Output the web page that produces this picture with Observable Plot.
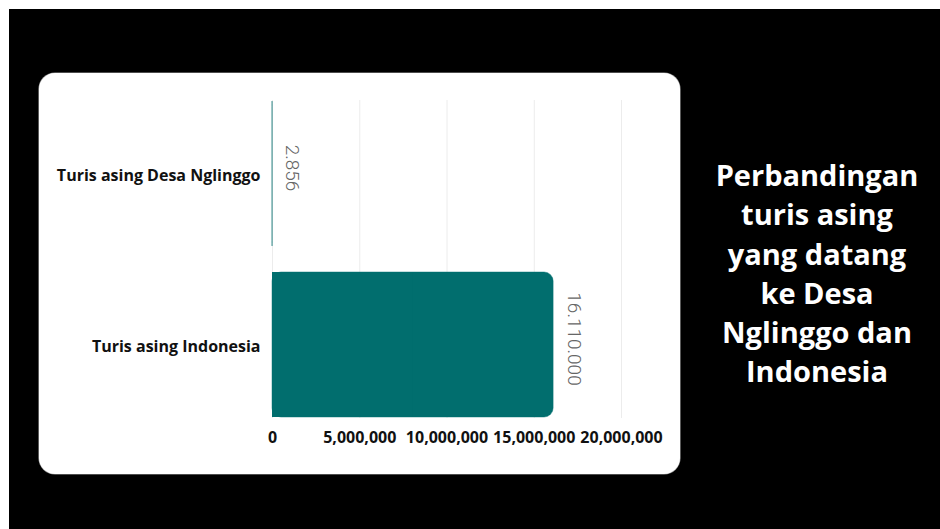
<!DOCTYPE html>
<html>
<head>
<meta charset="utf-8">
<script src="https://cdn.jsdelivr.net/npm/d3@7"></script>
<script src="https://cdn.jsdelivr.net/npm/@observablehq/plot@0.6"></script>
<style>
  html, body { margin: 0; padding: 0; background: #ffffff; width: 940px; height: 529px; overflow: hidden; }
  #bg { position: absolute; left: 9px; top: 9px; width: 931px; height: 520px; background: #000; }
  #card { position: absolute; left: 39px; top: 73px; width: 641px; height: 401px; background: #fff; border-radius: 16px; box-shadow: 0 0 0 0.6px #999; }
  #chart { position: absolute; left: 39px; top: 73px; }
  #title { position: absolute; left: 697px; top: 155px; width: 240px; text-align: center; color: #fff;
           font-family: "Open Sans", sans-serif; font-weight: 700; font-size: 29px; line-height: 39.3px; }
</style>
</head>
<body>
<div id="bg"></div>
<div id="card"></div>
<div id="chart"></div>
<div id="title">Perbandingan<br>turis asing<br>yang datang<br>ke Desa<br>Nglinggo dan<br>Indonesia</div>
<script>
const categories = ["Turis asing Desa Nglinggo", "Turis asing Indonesia"];
const values = [2856, 16110000];
const xTicks = [0, 5000000, 10000000, 15000000, 20000000];
const barColor = "#016e6e";

const data = categories.map((c, i) => ({cat: c, value: values[i]}));
const idLocale = d3.formatLocale({decimal: ",", thousands: ".", grouping: [3], currency: ["", ""]});
const labelFmt = idLocale.format(",");
const tickFmt = d3.format(",");

const chart = Plot.plot({
  width: 641,
  height: 401,
  marginLeft: 233,
  marginRight: 59,
  marginTop: 27,
  marginBottom: 56,
  style: {background: "transparent", fontFamily: "'Open Sans', sans-serif", overflow: "visible"},
  x: {domain: [0, 20000000], ticks: xTicks, tickFormat: tickFmt, label: null},
  y: {domain: categories, paddingInner: 0.15, paddingOuter: 0, label: null},
  marks: [
    Plot.gridX(xTicks, {stroke: "#ececec", strokeOpacity: 1}),
    Plot.barX(data, {x: "value", y: "cat", fill: barColor, stroke: barColor, strokeWidth: 1, strokeOpacity: 0.45, rx: 9}),
    Plot.barX(data, {x1: 0, x2: d => d.value / 2, y: "cat", fill: barColor}),
    Plot.text(data, {x: "value", y: "cat", text: d => labelFmt(d.value), rotate: 90, dx: 20, dy: -6,
      fill: "#666", fontSize: 19, fontWeight: 300, fontFamily: "Roboto, sans-serif", textAnchor: "middle"}),
    Plot.axisX({ticks: xTicks, tickFormat: tickFmt, tickSize: 0, tickPadding: 13, fontSize: 16, fontWeight: 700, fill: "#111", label: null}),
    Plot.axisY({tickSize: 0, tickPadding: 12, dy: 2, fontSize: 16, fontWeight: 700, fill: "#111", label: null})
  ]
});
document.getElementById("chart").appendChild(chart);
</script>
</body>
</html>
